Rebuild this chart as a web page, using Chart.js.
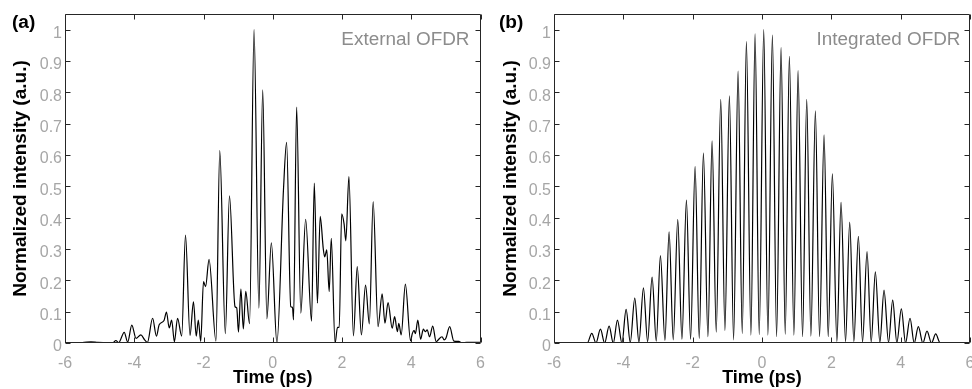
<!DOCTYPE html>
<html><head><meta charset="utf-8">
<script src="https://cdn.jsdelivr.net/npm/chart.js@4"></script>
<style>
html,body{margin:0;padding:0;background:#fff;}
#wrap{position:relative;width:972px;height:389px;overflow:hidden;}
.c{position:absolute;top:0;width:486px;height:389px;}
</style></head><body>
<div id="wrap">
<div class="c" style="left:0"><canvas id="ca"></canvas></div>
<div class="c" style="left:486px"><canvas id="cb"></canvas></div>
</div>
<script>
const xTicks=[-6,-4,-2,0,2,4,6];
const xTickLabels=['-6','-4','-2','0','2','4','6'];
const yTicks=[0,0.1,0.2,0.3,0.4,0.5,0.6,0.7,0.8,0.9,1];
const yTickLabels=['0','0.1','0.2','0.3','0.4','0.5','0.6','0.7','0.8','0.9','1'];
const panelLabels=['(a)','(b)'];
const seriesNames=['External OFDR','Integrated OFDR'];
const xTitle='Time (ps)';
const yTitle='Normalized intensity (a.u.)';

const extTime=[-6.00,-5.50,-5.25,-5.05,-4.80,-4.62,-4.53,-4.45,-4.29,-4.19,-4.07,-3.95,-3.81,-3.70,-3.62,-3.47,-3.36,-3.28,-3.14,-3.07,-2.99,-2.92,-2.84,-2.75,-2.63,-2.52,-2.39,-2.29,-2.21,-2.15,-2.08,-2.00,-1.94,-1.84,-1.64,-1.53,-1.37,-1.25,-1.09,-1.04,-0.99,-0.92,-0.85,-0.78,-0.67,-0.54,-0.40,-0.29,-0.17,-0.04,0.12,0.31,0.40,0.52,0.57,0.60,0.69,0.81,0.95,1.12,1.20,1.29,1.37,1.46,1.50,1.56,1.63,1.69,1.80,1.87,1.92,1.99,2.06,2.11,2.20,2.33,2.44,2.56,2.68,2.79,2.90,3.04,3.16,3.24,3.33,3.45,3.52,3.60,3.64,3.71,3.83,3.98,4.03,4.08,4.12,4.19,4.27,4.35,4.41,4.46,4.53,4.62,4.72,4.76,4.89,4.95,5.00,5.11,5.23,5.37,5.47,5.60,6.00];
const extValue=[0.001,0.001,0.004,0.002,0.001,0.000,0.008,0.001,0.034,0.003,0.057,0.015,0.026,0.010,0.002,0.079,0.022,0.058,0.072,0.099,0.048,0.073,0.004,0.079,0.022,0.344,0.024,0.131,0.022,0.073,0.005,0.196,0.180,0.267,0.006,0.614,0.030,0.470,0.116,0.112,0.035,0.172,0.045,0.165,0.062,1.000,0.111,0.808,0.077,0.320,0.000,0.490,0.640,0.116,0.114,0.074,0.753,0.095,0.395,0.070,0.510,0.127,0.404,0.300,0.275,0.297,0.164,0.334,0.000,0.050,0.050,0.412,0.380,0.326,0.531,0.023,0.244,0.026,0.185,0.061,0.451,0.052,0.157,0.063,0.129,0.047,0.084,0.036,0.063,0.026,0.188,0.007,0.030,0.040,0.030,0.073,0.012,0.044,0.036,0.042,0.020,0.054,0.004,0.008,0.020,0.010,0.015,0.052,0.006,0.005,0.000,0.002,0.002];

const intTime=[-6,-5.04,-4.91,-4.79,-4.66,-4.54,-4.41,-4.29,-4.17,-4.04,-3.92,-3.80,-3.67,-3.55,-3.42,-3.30,-3.17,-3.05,-2.93,-2.80,-2.68,-2.56,-2.43,-2.31,-2.18,-2.06,-1.93,-1.81,-1.69,-1.56,-1.44,-1.32,-1.19,-1.07,-0.94,-0.82,-0.69,-0.57,-0.45,-0.32,-0.20,-0.08,0.05,0.17,0.30,0.42,0.55,0.67,0.79,0.92,1.04,1.17,1.29,1.41,1.54,1.66,1.79,1.91,2.03,2.16,2.28,2.41,2.53,2.65,2.78,2.90,3.03,3.15,3.27,3.40,3.52,3.65,3.77,3.89,4.02,4.14,4.27,4.39,4.51,4.64,4.76,4.89,5.01,5.14,6];
const intValue=[0,0,0.031,0,0.044,0,0.054,0,0.073,0,0.107,0.002,0.143,0.003,0.176,0.004,0.210,0.006,0.279,0.008,0.355,0.010,0.395,0.012,0.456,0.012,0.563,0.015,0.606,0.020,0.645,0.035,0.778,0.040,0.789,0.010,0.868,0.030,0.962,0.025,0.987,0.027,1.000,0.025,0.983,0.020,0.943,0.028,0.915,0.025,0.869,0.020,0.778,0.022,0.741,0.020,0.664,0.020,0.540,0.005,0.449,0.004,0.386,0.004,0.340,0.003,0.292,0.003,0.227,0.002,0.169,0.002,0.137,0.001,0.109,0,0.079,0,0.052,0,0.038,0,0.029,0,0];

const F='"Liberation Sans", Arial, Helvetica, sans-serif';
const AXIS='#262626';

const boxPlugin={
  id:'box',
  afterDraw(chart,args,opts){
    const {ctx,chartArea:a,scales:{x,y}}=chart;
    const L=Math.round(a.left)+0.5,R=Math.round(a.right)-0.5,T=Math.round(a.top)+0.5,B=Math.round(a.bottom)-0.5;
    ctx.save();
    ctx.strokeStyle=AXIS;ctx.lineWidth=1;
    ctx.beginPath();
    ctx.rect(L,T,R-L,B-T);
    xTicks.forEach(v=>{
      const px=Math.round(x.getPixelForValue(v))+0.5;
      ctx.moveTo(px,B);ctx.lineTo(px,B-5);
      ctx.moveTo(px,T);ctx.lineTo(px,T+5);
    });
    yTicks.forEach(v=>{
      const py=Math.round(y.getPixelForValue(v))+0.5;
      ctx.moveTo(L,py);ctx.lineTo(L+5,py);
      ctx.moveTo(R,py);ctx.lineTo(R-5,py);
    });
    ctx.stroke();
    ctx.fillStyle='#8c8c8c';
    ctx.font='17.5px '+F;
    ctx.textAlign='right';ctx.textBaseline='alphabetic';
    ctx.save();
    ctx.translate(a.right-opts.nameRight,45);
    ctx.scale(1.08,1);
    ctx.fillText(opts.name,0,0);
    ctx.restore();
    ctx.fillStyle='#000';
    ctx.font='bold 18px '+F;
    ctx.textAlign='left';
    ctx.save();
    ctx.translate(opts.labelX,28);
    ctx.scale(1.06,1);
    ctx.fillText(opts.label,0,0);
    ctx.restore();
    ctx.restore();
  }
};

function makeChart(id,times,vals,idx,yAxisW,padRight,titlePad,labelX,nameRight){
  const pts=times.map((t,i)=>({x:t,y:vals[i]}));
  return new Chart(document.getElementById(id),{
    type:'line',
    data:{datasets:[{data:pts,borderColor:'#000',borderWidth:1.2,pointRadius:0,fill:false,cubicInterpolationMode:'monotone'}]},
    options:{
      responsive:true,maintainAspectRatio:false,animation:false,
      layout:{padding:{top:14,right:padRight,left:0,bottom:0}},
      plugins:{legend:{display:false},tooltip:{enabled:false},
        box:{name:seriesNames[idx],label:panelLabels[idx],labelX:labelX,nameRight:nameRight}},
      scales:{
        x:{type:'linear',min:-6,max:6,
          afterBuildTicks:s=>{s.ticks=xTicks.map(v=>({value:v}));},
          afterFit:s=>{s.height=46;s.paddingLeft=0;s.paddingRight=0;},
          grid:{display:false,drawTicks:false},border:{display:false},
          ticks:{color:'#a6a6a6',font:{family:F,size:16},padding:11,maxRotation:0,autoSkip:false,
            callback:(v,i)=>xTickLabels[i]},
          title:{display:true,text:xTitle,color:'#000',font:{family:F,size:18,weight:'bold',lineHeight:1},padding:{top:0,bottom:2}}
        },
        y:{type:'linear',min:0,max:1.05,
          afterBuildTicks:s=>{s.ticks=yTicks.map(v=>({value:v}));},
          afterFit:s=>{s.width=yAxisW;s.paddingTop=0;s.paddingBottom=0;},
          grid:{display:false,drawTicks:false},border:{display:false},
          ticks:{color:'#a6a6a6',font:{family:F,size:16},padding:3,labelOffset:4,autoSkip:false,
            callback:(v,i)=>yTickLabels[i]},
          title:{display:true,text:yTitle,color:'#000',font:{family:F,size:19,weight:'bold',lineHeight:1},padding:{top:titlePad,bottom:0}}
        }
      }
    },
    plugins:[boxPlugin]
  });
}
makeChart('ca',extTime,extValue,0,65,5.5,11.5,12,11);
makeChart('cb',intTime,intValue,1,68,2,15.5,13,9.5);
</script>
</body></html>
